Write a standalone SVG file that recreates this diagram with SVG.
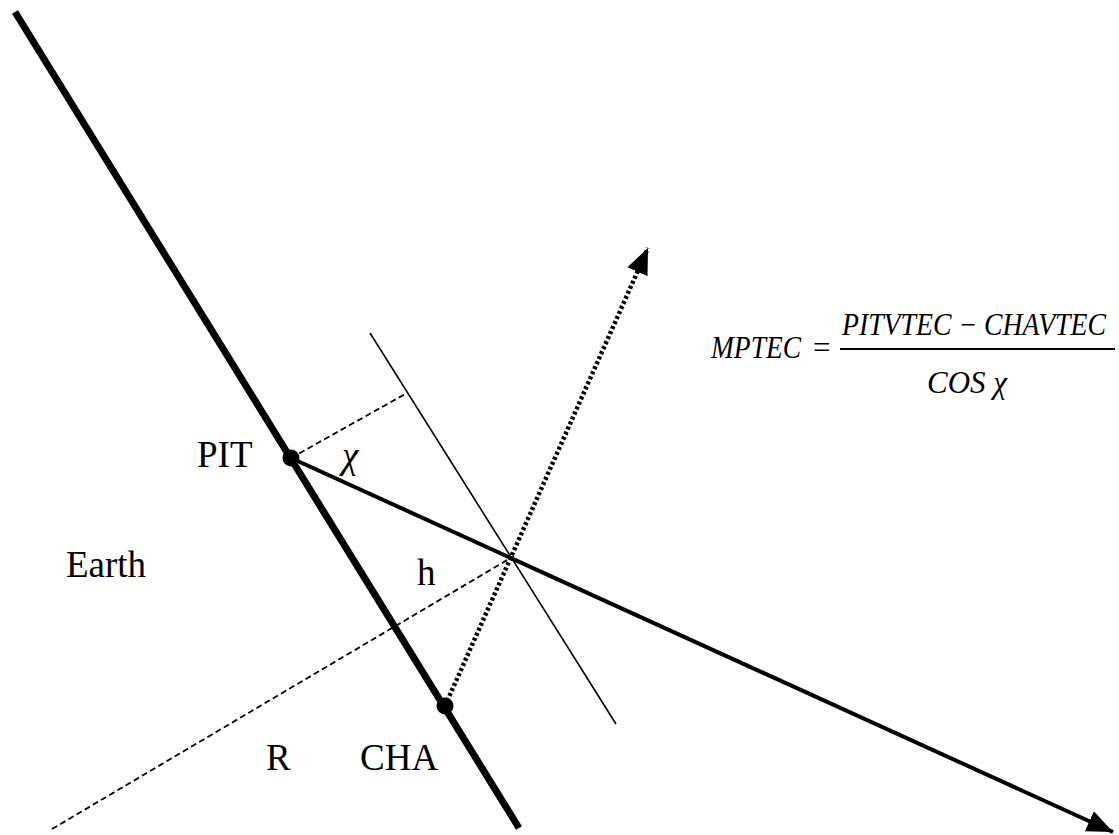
<svg xmlns="http://www.w3.org/2000/svg" width="1119" height="835" viewBox="0 0 1119 835">
<style>
.lbl{font-family:"Liberation Serif","Times New Roman",serif;font-size:37px;fill:#000}
.eq{font-family:"Liberation Serif","Times New Roman",serif;font-size:31px;font-style:italic;fill:#000}
.thick{stroke:#000;stroke-width:7;fill:none}
.thin{stroke:#000;stroke-width:1.6;fill:none}
.ray{stroke:#000;stroke-width:4;fill:none}
.dash{stroke:#000;stroke-width:1.8;stroke-dasharray:6,3.5;fill:none}
.dot{stroke:#000;stroke-width:4.5;stroke-dasharray:3,2.5;fill:none}
</style>
<defs>
<marker id="ah" markerUnits="userSpaceOnUse" markerWidth="28" markerHeight="24" refX="26" refY="12" orient="auto">
<polygon points="0,1 26,12 0,23" fill="#000"/>
</marker>
</defs>
<rect width="1119" height="835" fill="#fff"/>
<g id="connectors">
<line class="thick" x1="15" y1="12" x2="519" y2="828"/>
<line class="thin" x1="370" y1="333" x2="616" y2="724"/>
<line class="dash" x1="291" y1="458" x2="407" y2="393"/>
<line class="dash" x1="52" y1="829" x2="514" y2="556"/>
<line class="ray" x1="291" y1="458" x2="1113" y2="832" marker-end="url(#ah)"/>
<line class="dot" x1="445" y1="706" x2="648" y2="248" marker-end="url(#ah)"/>
</g>
<g id="PIT">
<circle cx="291" cy="458" r="8.5" fill="#000"/>
<text class="lbl" x="197" y="467">PIT</text>
</g>
<g id="CHA">
<circle cx="445" cy="706" r="8.5" fill="#000"/>
<text class="lbl" x="360" y="770">CHA</text>
</g>
<g id="chi"><text class="lbl" x="342" y="468" font-size="42" font-style="italic">χ</text></g>
<g id="Earth"><text class="lbl" x="66" y="577" font-size="39">Earth</text></g>
<g id="h"><text class="lbl" x="417" y="585">h</text></g>
<g id="R"><text class="lbl" x="266" y="770">R</text></g>
<g id="formula">
<text class="eq" x="711" y="358" textLength="90" lengthAdjust="spacingAndGlyphs">MPTEC</text>
<text class="eq" x="811" y="358" font-style="normal">=</text>
<text class="eq" x="842" y="335" font-size="27.5" textLength="264" lengthAdjust="spacingAndGlyphs">PITVTEC − CHAVTEC</text>
<line x1="840" y1="349" x2="1115" y2="349" stroke="#000" stroke-width="1.8"/>
<text class="eq" x="967" y="393" text-anchor="middle">COS χ</text>
</g>
</svg>
